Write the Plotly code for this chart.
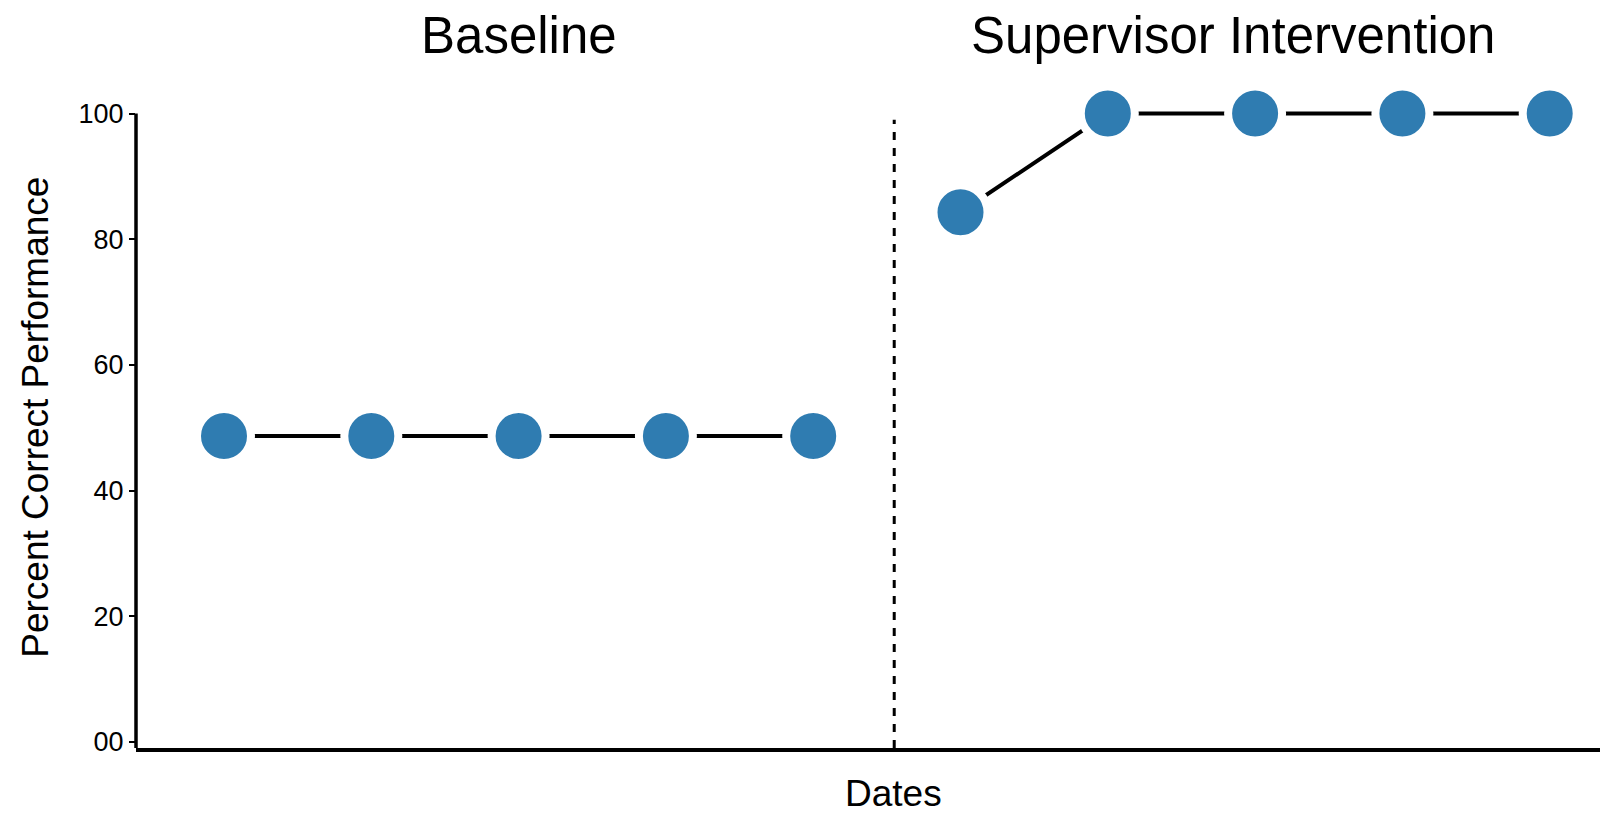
import plotly.graph_objects as go

# Data
baseline_sessions = [1, 2, 3, 4, 5]
baseline_values = [48.7, 48.7, 48.7, 48.7, 48.7]
intervention_sessions = [6, 7, 8, 9, 10]
intervention_values = [84.3, 100, 100, 100, 100]
phase_change_x = 5.55
y_tickvals = [0, 20, 40, 60, 80, 100]
y_ticktext = ["00", "20", "40", "60", "80", "100"]
phase_labels = ["Baseline", "Supervisor Intervention"]
phase_label_x = [3, 7.85]

FONT = "Liberation Sans, Arial, Helvetica, sans-serif"
BLUE = "#2f7cb1"

W, H = 1600, 816
scr_left, scr_right = 136, 1600
scr_bottom = 748
zero_px, px_per_unit = 742, 6.28
y_min = (zero_px - scr_bottom) / px_per_unit
y_max = 102.0
scr_top = zero_px - y_max * px_per_unit

m_l = scr_left
m_r = W - scr_right
m_t = scr_top
m_b = H - scr_bottom
plot_w = W - m_l - m_r
plot_h = H - m_t - m_b

def px_x(sx):
    return (sx - scr_left) / plot_w

def px_y(sy):
    return (scr_bottom - sy) / plot_h

fig = go.Figure()

for xs, ys in [(baseline_sessions, baseline_values), (intervention_sessions, intervention_values)]:
    fig.add_trace(go.Scatter(
        x=xs, y=ys, mode="lines+markers",
        line=dict(color="black", width=4),
        marker=dict(size=54, color=BLUE, line=dict(color="white", width=8)),
        cliponaxis=False, showlegend=False, hoverinfo="x+y",
    ))

# phase change line
fig.add_shape(type="line", xref="x", yref="y",
              x0=phase_change_x, x1=phase_change_x, y0=y_min, y1=99,
              line=dict(color="black", width=3, dash="8px,8px"), layer="below")
# y axis line (stops at 100)
fig.add_shape(type="line", xref="paper", yref="y",
              x0=0, x1=0, y0=y_min, y1=100,
              line=dict(color="black", width=3.5), layer="above")

for label, lx in zip(phase_labels, phase_label_x):
    fig.add_annotation(text=label, x=lx, xref="x", y=px_y(36), yref="paper",
                       yanchor="middle", showarrow=False,
                       font=dict(size=51, color="black", family=FONT))

fig.add_annotation(text="Percent Correct Performance", textangle=-90,
                   xref="paper", yref="paper", x=px_x(36), y=px_y(418),
                   xanchor="center", yanchor="middle", showarrow=False,
                   font=dict(size=37, color="black", family=FONT))
fig.add_annotation(text="Dates", xref="paper", yref="paper",
                   x=px_x(893), y=px_y(793),
                   xanchor="center", yanchor="middle", showarrow=False,
                   font=dict(size=37, color="black", family=FONT))

x_lo = 1 - (224 - scr_left) / 147.3
x_hi = 1 + (scr_right - 224) / 147.3

fig.update_layout(
    width=W, height=H, autosize=False,
    margin=dict(l=m_l, r=m_r, t=m_t, b=m_b, pad=0),
    paper_bgcolor="white", plot_bgcolor="white",
    font=dict(family=FONT, color="black"),
    xaxis=dict(range=[x_lo, x_hi], showgrid=False, zeroline=False,
               showticklabels=False, ticks="", showline=True,
               linecolor="black", linewidth=4),
    yaxis=dict(range=[y_min, y_max], showgrid=False, zeroline=False,
               tickvals=y_tickvals, ticktext=y_ticktext,
               ticks="outside", ticklen=6, tickwidth=2, tickcolor="black",
               tickfont=dict(size=27, color="black", family=FONT),
               showline=False),
)

fig.write_html("out.html",
               config={"displayModeBar": False},
               post_script="document.body.style.margin='0';document.body.style.overflow='hidden';")
